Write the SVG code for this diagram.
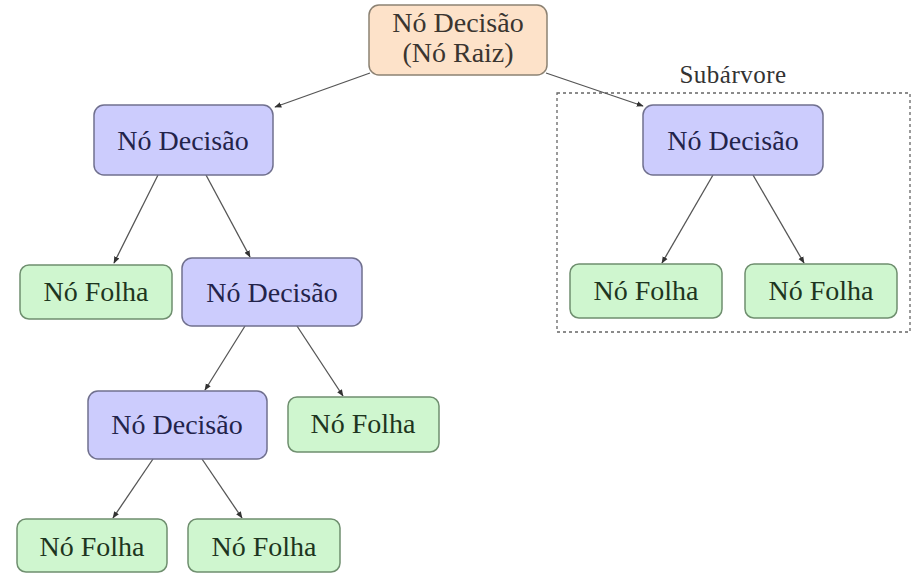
<svg xmlns="http://www.w3.org/2000/svg" width="914" height="575" viewBox="0 0 914 575">
<style>
.dec rect{fill:#ccccfd;stroke:#70708e;stroke-width:1.5}
.leaf rect{fill:#cff6cf;stroke:#6f8f6f;stroke-width:1.5}
.root rect{fill:#fde2c9;stroke:#8c8273;stroke-width:1.5}
text{font-family:"Liberation Serif","Tinos","Times New Roman","DejaVu Serif",serif;font-size:28px;text-anchor:middle}
.dec text{fill:#23234a}
.leaf text{fill:#1d3520}
.root text{fill:#3a3530}
.edges line{stroke:#555;stroke-width:1.3;marker-end:url(#ah)}
</style>
<defs>
<marker id="ah" viewBox="0 0 10 10" refX="9" refY="5" markerWidth="7" markerHeight="7" orient="auto" markerUnits="userSpaceOnUse">
<path d="M0,1 L10,5 L0,9 z" fill="#333"/>
</marker>
</defs>
<rect width="914" height="575" fill="#fff"/>
<g id="subtree">
<rect x="557" y="93" width="353" height="239" fill="none" stroke="#666" stroke-width="1.3" stroke-dasharray="3,3"/>
<text x="733" y="83" style="font-size:25px;letter-spacing:0.5px;fill:#333">Subárvore</text>
</g>
<g class="edges" id="connectors">
<line x1="370" y1="73" x2="275" y2="107"/>
<line x1="546" y1="73" x2="643" y2="106"/>
<line x1="158" y1="175" x2="114" y2="263"/>
<line x1="206" y1="175" x2="250" y2="257"/>
<line x1="245" y1="326" x2="205" y2="390"/>
<line x1="297" y1="326" x2="343" y2="396"/>
<line x1="153" y1="459" x2="113" y2="518"/>
<line x1="202" y1="459" x2="242" y2="518"/>
<line x1="713" y1="175" x2="662" y2="263"/>
<line x1="753" y1="175" x2="804" y2="263"/>
</g>
<g id="root" class="root">
<rect x="369" y="5" width="178" height="70" rx="10"/>
<text x="458" y="32">Nó Decisão</text>
<text x="458" y="62">(Nó Raiz)</text>
</g>
<g id="dec1" class="dec">
<rect x="94" y="105" width="179" height="70" rx="10"/>
<text x="183" y="150">Nó Decisão</text>
</g>
<g id="dec2" class="dec">
<rect x="643" y="105" width="180" height="70" rx="10"/>
<text x="733" y="150">Nó Decisão</text>
</g>
<g id="leaf1" class="leaf">
<rect x="20" y="265" width="152" height="54" rx="9"/>
<text x="96" y="301">Nó Folha</text>
</g>
<g id="dec3" class="dec">
<rect x="182" y="258" width="180" height="68" rx="10"/>
<text x="272" y="302">Nó Decisão</text>
</g>
<g id="leaf2" class="leaf">
<rect x="570" y="264" width="152" height="54" rx="9"/>
<text x="646" y="300">Nó Folha</text>
</g>
<g id="leaf3" class="leaf">
<rect x="745" y="264" width="152" height="54" rx="9"/>
<text x="821" y="300">Nó Folha</text>
</g>
<g id="dec4" class="dec">
<rect x="88" y="391" width="179" height="68" rx="10"/>
<text x="177" y="434">Nó Decisão</text>
</g>
<g id="leaf4" class="leaf">
<rect x="288" y="397" width="151" height="55" rx="9"/>
<text x="363" y="433">Nó Folha</text>
</g>
<g id="leaf5" class="leaf">
<rect x="17" y="519" width="150" height="53" rx="9"/>
<text x="92" y="556">Nó Folha</text>
</g>
<g id="leaf6" class="leaf">
<rect x="188" y="519" width="152" height="53" rx="9"/>
<text x="264" y="556">Nó Folha</text>
</g>
</svg>
